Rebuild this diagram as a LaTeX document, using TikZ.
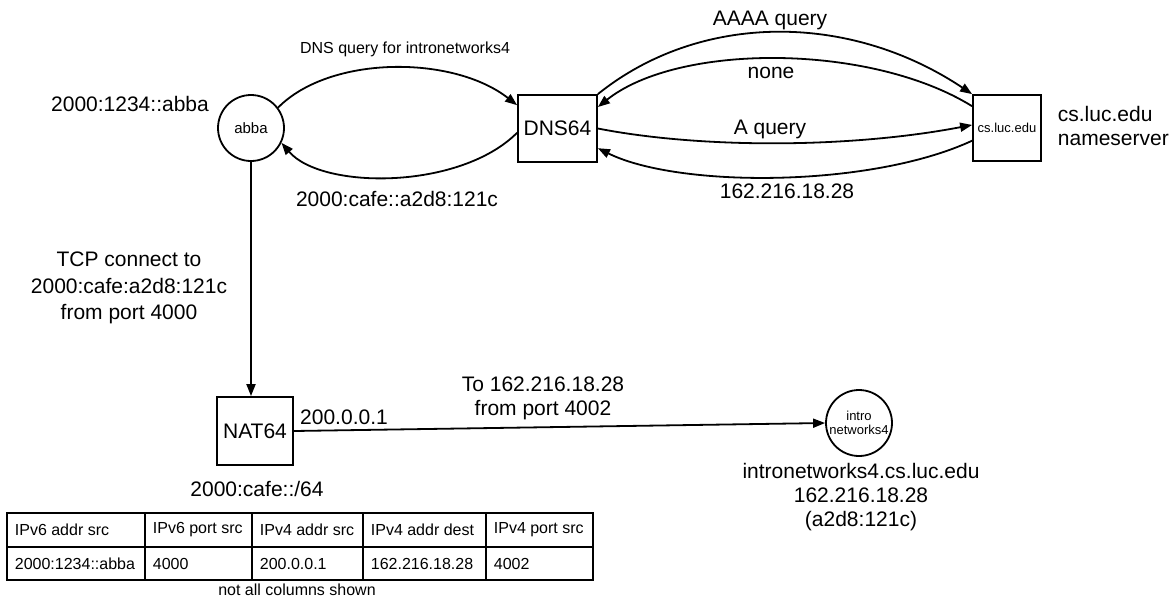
\documentclass[tikz,border=0pt]{standalone}
\usepackage{fontspec}
\setmainfont{Liberation Sans}
\usetikzlibrary{arrows.meta}

\begin{document}
\begin{tikzpicture}[x=1pt,y=-1pt,line width=1.8pt,
  >={Triangle[length=12pt,width=9pt]},
  host/.style={draw,circle,minimum size=66pt,inner sep=0pt,font=\fontsize{15}{17}\selectfont},
  box/.style={draw,rectangle,inner sep=0pt,font=\fontsize{21}{24}\selectfont},
  big/.style={font=\fontsize{21}{24}\selectfont,align=center,inner sep=0pt},
  small/.style={font=\fontsize{16}{18}\selectfont,inner sep=0pt},
  cell/.style={font=\fontsize{16}{18}\selectfont,inner sep=0pt,anchor=west}]

\useasboundingbox (0,0) rectangle (1173,598);

% hosts and boxes
\node[host] (abba) at (251,128) {abba};
\node[box,minimum width=79pt,minimum height=67pt] (dns) at (557.5,128.5) {DNS64};
\node[box,minimum width=68pt,minimum height=66pt,font=\fontsize{13}{15}\selectfont] (cs) at (1007,128) {cs.luc.edu};
\node[box,minimum width=76pt,minimum height=68pt] (nat) at (255,431) {NAT64};
\node[host,font=\fontsize{13}{14}\selectfont,align=center] (intro) at (859,423) {intro\\networks4};

% labels
\node[big] (abbaip) at (130,104) {2000:1234::abba};
\node[small] (qlbl) at (405,49) {DNS query for intronetworks4};
\node[big] (cafe) at (397,199) {2000:cafe::a2d8:121c};
\node[big,align=left,anchor=west] (csname) at (1057,126) {cs.luc.edu\\nameserver};
\node[big] (aaaa) at (770,20) {AAAA query};
\node[big] (none) at (771,73) {none};
\node[big] (aq) at (770,129) {A query};
\node[big] (ans) at (787,191) {162.216.18.28};
\node[big,font=\fontsize{21}{26.5}\selectfont] (tcp) at (129,288) {TCP connect to\\2000:cafe:a2d8:121c\\from port 4000};
\node[big] (natip) at (344,417) {200.0.0.1};
\node[big] (natpre) at (257,489) {2000:cafe::/64};
\node[big] (to) at (543,398) {To 162.216.18.28\\from port 4002};
\node[big] (introname) at (861,497) {intronetworks4.cs.luc.edu\\162.216.18.28\\(a2d8:121c)};

% dns exchange
\draw[->] (abba.37) .. controls (330,55) and (453,55) .. (dns.150);
\draw[->] (dns.186) .. controls (460,190) and (322,190) .. (abba.-26);
\draw[->] (dns.north east) .. controls (700,12) and (849,12) .. (cs.north west);
\draw[->] (cs.148) .. controls (870,43) and (678,43) .. (dns.28);
\draw[->] (dns.east) .. controls (700,148.5) and (849,148.5) .. (cs.175);
\draw[->] (cs.200) .. controls (870,188) and (678,188) .. (dns.-26);

% connection
\draw[->] (abba.south) -- (abba.south |- nat.north);
\draw[->] (nat.east) -- (intro.west);

% nat table
\foreach \xa/\xb/\hd/\vl [count=\i] in {7/145/IPv6 addr src/2000:1234::abba,
  145/252/IPv6 port src/4000, 252/363/IPv4 addr src/200.0.0.1,
  363/486/IPv4 addr dest/162.216.18.28, 486/593/IPv4 port src/4002}{
  \draw (\xa,513) rectangle (\xb,547);
  \draw (\xa,547) rectangle (\xb,580);
  \node[cell] (head\i) at (\xa+7,530) {\hd};
  \node[cell] (val\i) at (\xa+7,563.5) {\vl};
}
\node[small] (note) at (297,590) {not all columns shown};
\end{tikzpicture}
\end{document}
